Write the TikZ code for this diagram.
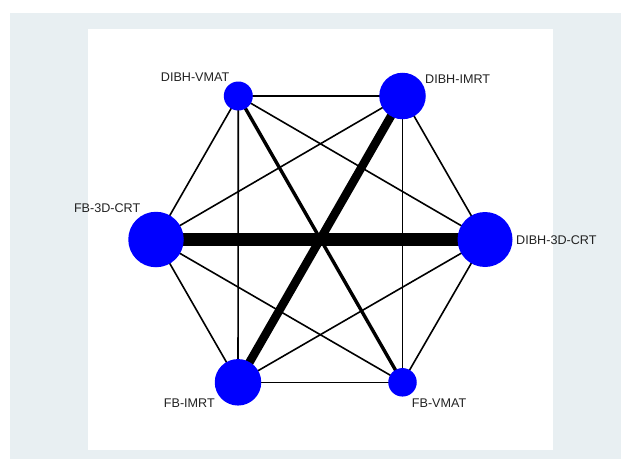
\documentclass[tikz,border=0pt]{standalone}
\usepackage{fontspec}
\setmainfont{Liberation Sans}
\definecolor{bgpanel}{HTML}{E8EFF2}
\definecolor{nodeblue}{HTML}{0000FF}
\definecolor{labelgray}{HTML}{222222}
\begin{document}
\begin{tikzpicture}[x=1pt,y=-1pt,
  trt/.style={circle,fill=nodeblue,draw=none,inner sep=0pt},
  lbl/.style={inner sep=0pt,font=\fontsize{12.6}{14}\selectfont,text=labelgray},
  thin edge/.style={draw=black,line width=1.6pt},
  mid edge/.style={draw=black,line width=3.4pt},
  thick edge/.style={draw=black,line width=8.5pt},
  heavy edge/.style={draw=black,line width=12.5pt}]
\useasboundingbox (0,0) rectangle (621,460);
\fill[white] (0,0) rectangle (621,460);
\fill[bgpanel] (10,13) rectangle (621,459);
\fill[white] (88,29) rectangle (553,450);
% node centres
\coordinate (pA) at (238.3,96);
\coordinate (pB) at (402.5,96);
\coordinate (pC) at (156,239.5);
\coordinate (pD) at (485,239.5);
\coordinate (pE) at (238,382.3);
\coordinate (pF) at (402.5,382.3);
% edges
\draw[thin edge] (pA) -- (pB);
\draw[thin edge] (pA) -- (pC);
\draw[thin edge] (pA) -- (pD);
\draw[thin edge] (pA) -- (pE);
\draw[mid edge] (pA) -- (pF);
\draw[thin edge] (pB) -- (pC);
\draw[thin edge] (pB) -- (pD);
\draw[thick edge] (pB) -- (pE);
\draw[thin edge] (pB) -- (pF);
\draw[heavy edge] (pC) -- (pD);
\draw[thin edge] (pC) -- (pE);
\draw[thin edge] (pC) -- (pF);
\draw[thin edge] (pD) -- (pE);
\draw[thin edge] (pD) -- (pF);
\draw[thin edge] (pE) -- (pF);
% nodes
\node[trt,minimum size=29pt] (dibhvmat) at (pA) {};
\node[trt,minimum size=46.5pt] (dibhimrt) at (pB) {};
\node[trt,minimum size=55.5pt] (fb3dcrt) at (pC) {};
\node[trt,minimum size=55pt] (dibh3dcrt) at (pD) {};
\node[trt,minimum size=46.5pt] (fbimrt) at (pE) {};
\node[trt,minimum size=28.5pt] (fbvmat) at (pF) {};
% labels
\node[lbl,anchor=base east] (lA) at (229.5,81.8) {DIBH-VMAT};
\node[lbl,anchor=base east] (lC) at (140.5,212.8) {FB-3D-CRT};
\node[lbl,anchor=base west] (lB) at (425,83.8) {DIBH-IMRT};
\node[lbl,anchor=base west] (lD) at (516,244.5) {DIBH-3D-CRT};
\node[lbl,anchor=base east] (lE) at (215,407.2) {FB-IMRT};
\node[lbl,anchor=base west] (lF) at (411.7,407.8) {FB-VMAT};
\end{tikzpicture}
\end{document}
